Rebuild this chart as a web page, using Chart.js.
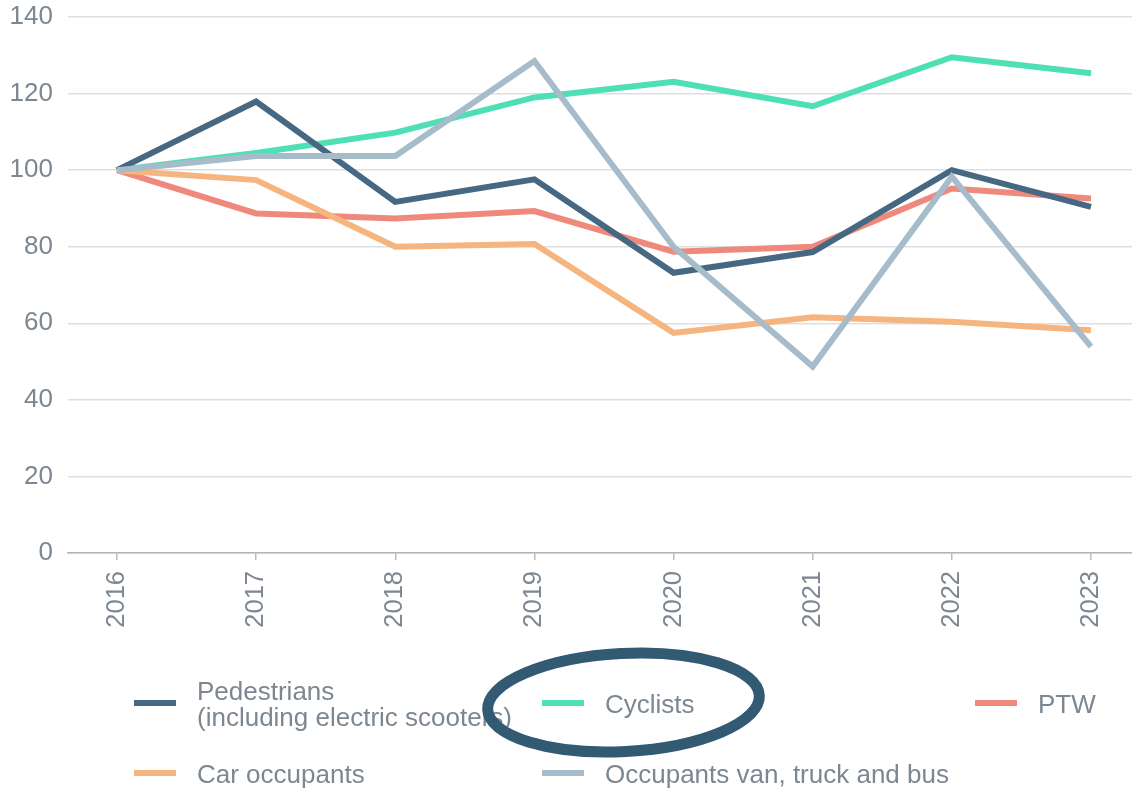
<!DOCTYPE html>
<html>
<head>
<meta charset="utf-8">
<script src="https://cdn.jsdelivr.net/npm/chart.js@4.4.1/dist/chart.umd.min.js"></script>
<style>
  html, body { margin: 0; padding: 0; background: #ffffff; }
  #wrap { width: 1132px; height: 791px; position: relative; }
</style>
</head>
<body>
<div id="wrap"><canvas id="c"></canvas></div>
<script>
// ---- data ----
const years = [2016, 2017, 2018, 2019, 2020, 2021, 2022, 2023];
const pedestrians = [100, 117.9, 91.7, 97.6, 73.2, 78.6, 100.0, 90.4];
const cyclists = [100, 104.5, 109.8, 119.0, 123.1, 116.7, 129.5, 125.3];
const ptw = [100, 88.7, 87.4, 89.3, 78.7, 80.0, 95.2, 92.6];
const carOccupants = [100, 97.4, 80.0, 80.7, 57.5, 61.6, 60.4, 58.2];
const vanTruckBus = [100, 103.7, 103.7, 128.5, 80.0, 48.7, 98.3, 53.9];
const yTickValues = [0, 20, 40, 60, 80, 100, 120, 140];
const seriesLabels = [
  ["Pedestrians", "(including electric scooters)"],
  ["Cyclists"],
  ["PTW"],
  ["Car occupants"],
  ["Occupants van, truck and bus"]
];

// ---- styles ----
const TEXT = '#7c8791';
const FONT = '"Liberation Sans", Arial, Helvetica, sans-serif';
const colors = ['#476882', '#4fdfb4', '#ef897c', '#f6b47f', '#a7bccb'];
const seriesValues = [pedestrians, cyclists, ptw, carOccupants, vanTruckBus];
const drawOrder = [1, 4, 3, 2, 0];

const datasets = seriesValues.map((vals, i) => ({
  label: seriesLabels[i].join(' '),
  data: years.map((y, k) => ({ x: y, y: vals[k] })),
  borderColor: colors[i],
  backgroundColor: colors[i],
  borderWidth: 6,
  pointRadius: 0,
  pointHoverRadius: 0,
  tension: 0,
  fill: false,
  order: drawOrder[i],
  borderJoinStyle: 'miter',
  clip: false
}));

const legendPlugin = {
  id: 'customLegend',
  afterDraw(chart) {
    const ctx = chart.ctx;
    ctx.save();
    const cols = [134, 542, 975];
    const rows = [703, 773];
    const slots = [[0, 0], [1, 0], [2, 0], [0, 1], [1, 1]];
    ctx.font = '26px ' + FONT;
    ctx.textBaseline = 'alphabetic';
    ctx.textAlign = 'left';
    seriesLabels.forEach((lines, i) => {
      const x = cols[slots[i][0]];
      const y = rows[slots[i][1]];
      ctx.strokeStyle = colors[i];
      ctx.lineWidth = 6;
      ctx.lineCap = 'butt';
      ctx.beginPath();
      ctx.moveTo(x, y);
      ctx.lineTo(x + 42, y);
      ctx.stroke();
      ctx.fillStyle = TEXT;
      const lh = 26;
      const firstBase = y + 10 - (lines.length - 1) * lh / 2;
      lines.forEach((t, j) => {
        ctx.fillText(t, x + 63, firstBase + j * lh);
      });
    });
    // highlight ellipse around "Cyclists"
    ctx.strokeStyle = '#325a73';
    ctx.lineWidth = 11;
    ctx.beginPath();
    ctx.ellipse(623.5, 702.5, 136, 49, -3 * Math.PI / 180, 0, Math.PI * 2);
    ctx.stroke();
    ctx.restore();
  }
};

new Chart(document.getElementById('c'), {
  type: 'line',
  data: { datasets },
  plugins: [legendPlugin],
  options: {
    responsive: true,
    maintainAspectRatio: false,
    animation: false,
    events: [],
    layout: { padding: { left: 0, right: 0, top: 17, bottom: 158 } },
    plugins: {
      legend: { display: false },
      tooltip: { enabled: false },
      title: { display: false }
    },
    scales: {
      x: {
        type: 'linear',
        min: 2015.648,
        max: 2023.295,
        afterBuildTicks: (s) => { s.ticks = years.map(v => ({ value: v })); },
        afterFit: (s) => { s.height = 80; s.paddingLeft = 0; s.paddingRight = 0; },
        grid: {
          display: true,
          drawOnChartArea: false,
          drawTicks: true,
          tickLength: 7,
          color: '#b4bcc3',
          lineWidth: 1.5
        },
        border: { display: true, color: '#aeb6be', width: 1.5 },
        ticks: {
          autoSkip: false,
          minRotation: 90,
          maxRotation: 90,
          padding: 11,
          color: TEXT,
          font: { family: FONT, size: 25.5 },
          callback: (v) => String(v)
        }
      },
      y: {
        min: 0,
        max: 140,
        afterBuildTicks: (s) => { s.ticks = yTickValues.map(v => ({ value: v })); },
        afterFit: (s) => { s.width = 68; s.paddingTop = 0; s.paddingBottom = 0; },
        grid: {
          color: '#dcdfe2',
          lineWidth: 1.5,
          drawTicks: false,
          tickLength: 0
        },
        border: { display: false },
        ticks: {
          padding: 15,
          color: TEXT,
          font: { family: FONT, size: 26 },
          callback: (v) => String(v)
        }
      }
    }
  }
});
</script>
</body>
</html>
